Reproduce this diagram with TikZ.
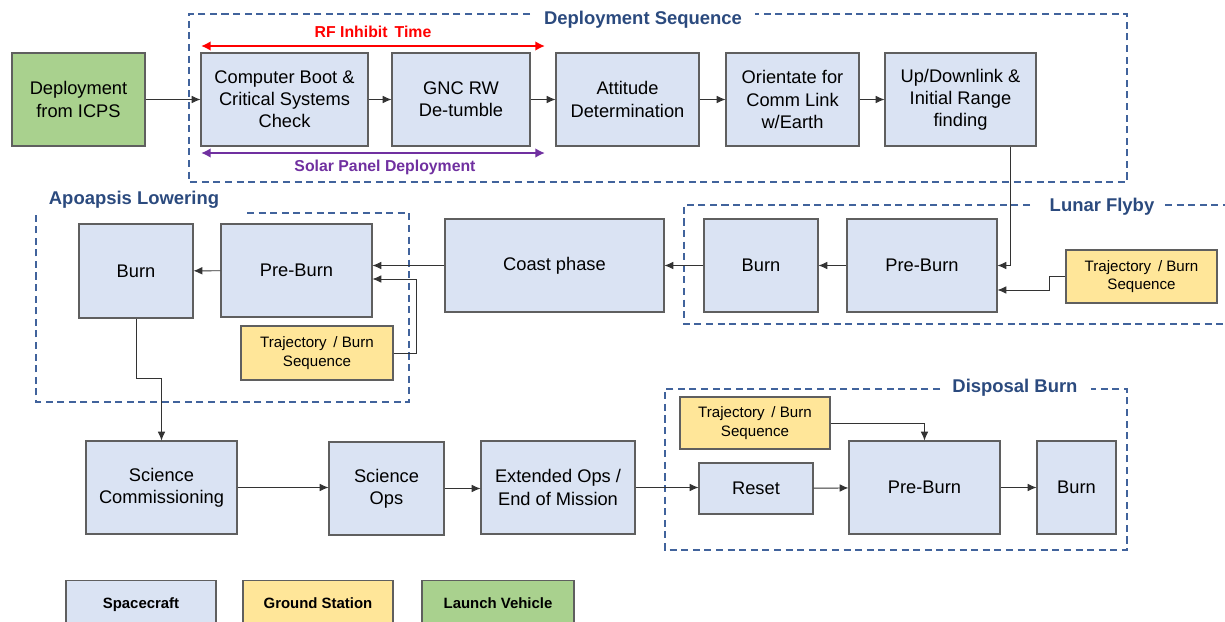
\documentclass[tikz,border=0pt]{standalone}
\usepackage{fontspec}
\setmainfont{Liberation Sans}
\usepackage{tikz}
\usetikzlibrary{arrows.meta}
\definecolor{Craft}{HTML}{DAE3F3}
\definecolor{Ground}{HTML}{FFE699}
\definecolor{Launch}{HTML}{A9D18E}
\definecolor{Frame}{HTML}{5F5F5F}
\definecolor{Phase}{HTML}{41639C}
\definecolor{PhaseText}{HTML}{2B4A7E}
\definecolor{Inhibit}{HTML}{FF0000}
\definecolor{Solar}{HTML}{7030A0}

\begin{document}
\begin{tikzpicture}[x=0.02cm, y=-0.02cm, >={Latex[length=5pt,width=4.4pt]},
  every node/.style={font=\fontsize{10.4}{12.6}\selectfont, align=center, inner sep=1pt},
  craft/.style={draw=Frame, fill=Craft, line width=0.6pt},
  ground/.style={draw=Frame, fill=Ground, line width=0.6pt, font=\fontsize{8.6}{10.6}\selectfont},
  launch/.style={draw=Frame, fill=Launch, line width=0.6pt},
  key/.style={draw=Frame, line width=0.6pt, minimum width=3cm, minimum height=0.9cm, text height=1.6ex, text depth=0.4ex, font=\fontsize{8.5}{10}\selectfont\bfseries},
  flow/.style={->, draw=black!80, line width=0.55pt},
  phase/.style={draw=Phase, line width=0.9pt, dash pattern=on 4pt off 2.6pt},
  phasename/.style={text=PhaseText, font=\fontsize{10.5}{12}\selectfont\bfseries},
  span/.style={{Latex[length=5.5pt,width=5.5pt]}-{Latex[length=5.5pt,width=5.5pt]}, line width=1.5pt},
  spanname/.style={font=\fontsize{9}{10}\selectfont\bfseries}]
  \useasboundingbox (0,0) rectangle (1225,622);

  % deployment sequence
  \node[launch, minimum width=2.66cm, minimum height=1.86cm] (icps) at (78.5,99.5) {Deployment\\from ICPS};
  \node[craft, minimum width=3.34cm, minimum height=1.86cm] (boot) at (284.5,99.5) {Computer Boot \&\\Critical Systems\\Check};
  \node[craft, minimum width=2.76cm, minimum height=1.86cm] (gnc) at (461,99.5) {GNC RW\\De-tumble};
  \node[craft, minimum width=2.86cm, minimum height=1.86cm] (att) at (627.5,99.5) {Attitude\\Determination};
  \node[craft, minimum width=2.66cm, minimum height=1.86cm] (orient) at (792.5,99.5) {Orientate for\\Comm Link\\w/Earth};
  \node[craft, minimum width=3.02cm, minimum height=1.86cm] (link) at (960.5,99.5) {Up/Downlink \&\\Initial Range\\finding};

  \draw[phase] (530,14) -| (189,182) -| (1127,14) -- (755,14);
  \node[phasename] (seqname) at (643,20) {Deployment Sequence};

  \draw[span, Inhibit] (201,46) -- node[spanname, above=3pt] {RF Inhibit\, Time} (545,46);
  \draw[span, Solar] (201,153) -- node[spanname, below=2pt, xshift=0.24cm] {Solar Panel Deployment} (545,153);

  % lunar flyby
  \node[craft, minimum width=3.0cm, minimum height=1.86cm] (lunPre) at (922,265.5) {Pre-Burn};
  \node[craft, minimum width=2.28cm, minimum height=1.86cm] (lunBurn) at (761,265.5) {Burn};
  \node[ground, minimum width=3.02cm, minimum height=1.06cm] (lunTraj) at (1141.5,276.5) {Trajectory\, / Burn\\Sequence};
  \node[craft, minimum width=4.38cm, minimum height=1.86cm] (coast) at (554.5,265.5) {Coast phase};

  \draw[phase] (1030,205) -- (684,205) -- (684,324) -- (1225,324);
  \draw[phase] (1165,205) -- (1225,205);
  \node[phasename] (lunName) at (1102,207) {Lunar Flyby};

  % apoapsis lowering
  \node[craft, minimum width=3.02cm, minimum height=1.86cm] (apoPre) at (296.5,270.5) {Pre-Burn};
  \node[craft, minimum width=2.28cm, minimum height=1.88cm] (apoBurn) at (136,271) {Burn};
  \node[ground, minimum width=3.04cm, minimum height=1.08cm] (apoTraj) at (317,353) {Trajectory\, / Burn\\Sequence};

  \draw[phase] (247,213) -| (409,402) -| (36,215);
  \node[phasename] (apoName) at (134,200) {Apoapsis Lowering};

  % science and disposal
  \node[craft, minimum width=3.02cm, minimum height=1.86cm] (sciCom) at (161.5,487.5) {Science\\Commissioning};
  \node[craft, minimum width=2.3cm, minimum height=1.86cm] (sciOps) at (386.5,488.5) {Science\\Ops};
  \node[craft, minimum width=3.08cm, minimum height=1.86cm] (extOps) at (558,487.5) {Extended Ops /\\End of Mission};
  \node[craft, minimum width=2.28cm, minimum height=1.02cm] (reset) at (756,488.5) {Reset};
  \node[craft, minimum width=3.02cm, minimum height=1.86cm] (disPre) at (924.5,487.5) {Pre-Burn};
  \node[craft, minimum width=1.58cm, minimum height=1.86cm] (disBurn) at (1076.5,487.5) {Burn};
  \node[ground, minimum width=3.0cm, minimum height=1.04cm] (disTraj) at (755,423) {Trajectory\, / Burn\\Sequence};

  \draw[phase] (940,389) -| (665,550) -| (1127,389) -- (1091,389);
  \node[phasename] (disName) at (1015,388) {Disposal Burn};

  % connectors
  \draw[flow] (icps) -- (boot);
  \draw[flow] (boot) -- (gnc);
  \draw[flow] (gnc) -- (att);
  \draw[flow] (att) -- (orient);
  \draw[flow] (orient) -- (link);
  \draw[flow] ([xshift=0.99cm]link.south) |- (lunPre.east);
  \draw[flow] (lunTraj.west) -- ++(-16,0) |- ([yshift=-0.49cm]lunPre.east);
  \draw[flow] (lunPre) -- (lunBurn);
  \draw[flow] (lunBurn) -- (coast);
  \draw[flow] (coast.west) -- (coast.west -| apoPre.east);
  \draw[flow] (apoTraj.east) -- ++(23,0) |- ([yshift=-0.17cm]apoPre.east);
  \draw[flow] (apoPre) -- (apoBurn);
  \draw[flow] (apoBurn.south) -- ++(0,60) -| (sciCom.north);
  \draw[flow] (sciCom.east) -- (sciCom.east -| sciOps.west);
  \draw[flow] (sciOps.east) -- (sciOps.east -| extOps.west);
  \draw[flow] (extOps.east) -- (extOps.east -| reset.west);
  \draw[flow] (reset) -- (disPre);
  \draw[flow] (disPre) -- (disBurn);
  \draw[flow] (disTraj.east) -| (disPre.north);

  % legend
  \node[key, fill=Craft] (keyCraft) at (141,603) {Spacecraft};
  \node[key, fill=Ground] (keyGround) at (318,603) {Ground Station};
  \node[key, fill=Launch, minimum width=3.04cm] (keyLaunch) at (498,603) {Launch Vehicle};
\end{tikzpicture}
\end{document}
